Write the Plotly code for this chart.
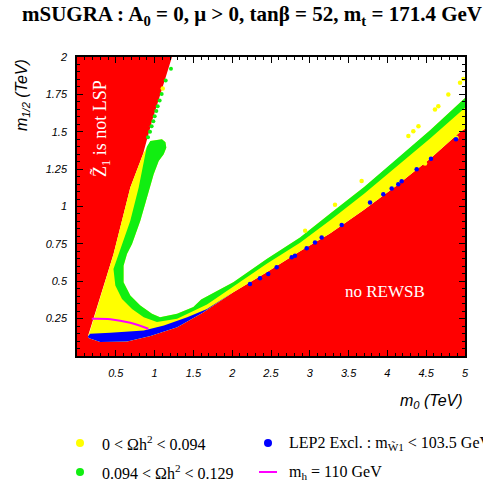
import plotly.graph_objects as go

# ---------------- data ----------------
# LSP boundary (red region to the left)  m0 (TeV), m1/2 (TeV)
lsp_m0 = [0.14, 0.17, 0.47, 0.687, 0.85, 0.966, 1.224]
lsp_m12 = [0.13, 0.17, 0.68, 1.127, 1.349, 1.57, 2.0]

# REWSB boundary (red region below)
rewsb_m0 = [0.14, 0.15, 0.30, 0.644, 0.945, 1.29, 1.62, 2.014, 2.445, 2.874, 3.26, 3.69, 4.12, 4.55, 4.94, 5.0]
rewsb_m12 = [0.13, 0.12, 0.093, 0.097, 0.133, 0.193, 0.29, 0.427, 0.56, 0.70, 0.82, 0.975, 1.14, 1.32, 1.50, 1.52]

# green band (0.094 < Oh2 < 0.129): outer edge and inner (white side) edge
green_outer_m0 = [0.945, 0.90, 0.88, 0.795, 0.687, 0.56, 0.47, 0.494, 0.58, 0.709, 0.86, 1.03, 1.29, 1.675,
                  2.014, 2.445, 2.874, 3.28, 3.7, 4.12, 4.55, 5.0]
green_outer_m12 = [1.438, 1.40, 1.349, 1.127, 0.904, 0.72, 0.582, 0.471, 0.382, 0.315, 0.26, 0.227, 0.249, 0.345,
                   0.463, 0.617, 0.757, 0.915, 1.085, 1.268, 1.455, 1.66]
green_inner_m0 = [0.945, 1.095, 1.14, 1.151, 1.117, 1.053, 0.988, 0.902, 0.816, 0.709, 0.644, 0.60, 0.60, 0.687,
                  0.816, 0.966, 1.07, 1.29, 1.50, 1.6, 2.014, 2.445, 2.874, 3.28, 3.7, 4.12, 4.55, 5.0]
green_inner_m12 = [1.438, 1.449, 1.43, 1.393, 1.349, 1.304, 1.215, 1.06, 0.904, 0.749, 0.682, 0.604, 0.493, 0.404,
                   0.337, 0.282, 0.26, 0.282, 0.327, 0.378, 0.493, 0.649, 0.793, 0.96, 1.13, 1.315, 1.51, 1.725]

# LEP2 excluded band: upper edge (lower edge follows the REWSB boundary)
blue_top_m0 = [0.14, 0.17, 0.43, 0.86, 1.12, 1.42, 1.675, 2.0]
blue_top_m12 = [0.13, 0.149, 0.155, 0.171, 0.204, 0.26, 0.315, 0.425]

# isolated LEP2 points along the REWSB edge
blue_dot_m0 = [2.229, 2.358, 2.465, 2.573, 2.767, 2.809, 2.96, 3.067, 3.153, 3.411, 3.776, 3.947, 4.055,
               4.14, 4.184, 4.377, 4.562, 4.884]
blue_dot_m12 = [0.482, 0.52, 0.549, 0.593, 0.66, 0.671, 0.72, 0.76, 0.793, 0.877, 1.027, 1.082, 1.12,
                1.149, 1.169, 1.249, 1.32, 1.449]

# isolated 0 < Oh2 < 0.094 points
yellow_dot_m0 = [2.94, 3.325, 3.668, 3.862, 4.27, 4.334, 4.4, 4.485, 4.613, 4.656, 4.785, 4.89, 4.936, 4.979, 1.105]
yellow_dot_m12 = [0.837, 1.011, 1.171, 1.06, 1.471, 1.504, 1.537, 1.287, 1.649, 1.671, 1.749, 1.46, 1.827, 1.853, 1.79]

# isolated 0.094 < Oh2 < 0.129 points along the LSP edge
green_dot_m0 = [1.211, 1.143, 1.091, 1.065, 1.040, 1.022, 1.001, 0.984, 0.962, 0.941, 0.915]
green_dot_m12 = [1.922, 1.842, 1.753, 1.709, 1.671, 1.638, 1.604, 1.571, 1.537, 1.5, 1.464]

# m_h = 110 GeV contour
mh_m0 = [0.19, 0.43, 0.687, 0.92]
mh_m12 = [0.249, 0.246, 0.222, 0.182]

x_ticks = [0.5, 1, 1.5, 2, 2.5, 3, 3.5, 4, 4.5, 5]
x_ticklabels = ["0.5", "1", "1.5", "2", "2.5", "3", "3.5", "4", "4.5", "5"]
y_ticks = [0.25, 0.5, 0.75, 1, 1.25, 1.5, 1.75, 2]
y_ticklabels = ["0.25", "0.5", "0.75", "1", "1.25", "1.5", "1.75", "2"]

legend_labels = ["0 < Ωh<sup>2</sup> < 0.094", "LEP2 Excl. : m<sub>W̃1</sub> < 103.5 GeV",
                 "0.094 < Ωh<sup>2</sup> < 0.129", "m<sub>h</sub> = 110 GeV"]

RED, YELLOW, GREEN, BLUE, MAGENTA = "#ff0000", "#ffff00", "#11ee11", "#0000ff", "#ff00ff"
legend_colors = [YELLOW, BLUE, GREEN, MAGENTA]
legend_kinds = ["dot", "dot", "dot", "line"]

# ---------------- geometry ----------------
W, H = 483, 487
L, R, T, B = 77, 18, 57, 131
PW, PH = W - L - R, H - T - B


def px(X):
    return (X - L) / PW


def py(Y):
    return (H - B - Y) / PH


# ---------------- polygons built from the boundaries ----------------
red_x = [0, 0] + lsp_m0[::-1] + rewsb_m0[1:] + [5, 0]
red_y = [0, 2] + lsp_m12[::-1] + rewsb_m12[1:] + [0, 0]

yel_x = lsp_m0[:5] + green_inner_m0 + rewsb_m0[::-1]
yel_y = lsp_m12[:5] + green_inner_m12 + rewsb_m12[::-1]

grn_x = green_outer_m0 + green_inner_m0[::-1]
grn_y = green_outer_m12 + green_inner_m12[::-1]

low = [(a, b) for a, b in zip(rewsb_m0, rewsb_m12) if a <= 2.02]
blu_x = blue_top_m0 + [a for a, b in low][::-1]
blu_y = blue_top_m12 + [b for a, b in low][::-1]

fig = go.Figure()


def poly(x, y, color):
    fig.add_trace(go.Scatter(x=x, y=y, mode="lines", fill="toself", fillcolor=color,
                             line=dict(width=0, color=color), showlegend=False, hoverinfo="skip"))


poly(red_x, red_y, RED)
poly(yel_x, yel_y, YELLOW)
poly(grn_x, grn_y, GREEN)
poly(blu_x, blu_y, BLUE)

fig.add_trace(go.Scatter(x=green_dot_m0, y=green_dot_m12, mode="markers",
                         marker=dict(color=GREEN, size=4), showlegend=False))
fig.add_trace(go.Scatter(x=yellow_dot_m0, y=yellow_dot_m12, mode="markers",
                         marker=dict(color=YELLOW, size=4.5), showlegend=False))
fig.add_trace(go.Scatter(x=blue_dot_m0, y=blue_dot_m12, mode="markers",
                         marker=dict(color=BLUE, size=4.5), showlegend=False))
fig.add_trace(go.Scatter(x=mh_m0, y=mh_m12, mode="lines", line=dict(color=MAGENTA, width=2),
                         line_shape="spline", showlegend=False))

tickfont = dict(family="Liberation Sans", size=11, style="italic", color="black")
fig.update_xaxes(range=[0, 5], tickvals=x_ticks, ticktext=x_ticklabels, ticks="inside", ticklen=6,
                 tickcolor="black", showline=True, linecolor="black", linewidth=1.5, mirror="allticks",
                 showgrid=False, zeroline=False, tickfont=tickfont, ticklabelstandoff=6,
                 minor=dict(dtick=0.1, ticks="inside", ticklen=3, tickcolor="black", showgrid=False))
fig.update_yaxes(range=[0, 2], tickvals=y_ticks, ticktext=y_ticklabels, ticks="inside", ticklen=6,
                 tickcolor="black", showline=True, linecolor="black", linewidth=1.5, mirror="allticks",
                 showgrid=False, zeroline=False, tickfont=tickfont, ticklabelstandoff=6,
                 minor=dict(dtick=0.05, ticks="inside", ticklen=3, tickcolor="black", showgrid=False))

# ---------------- manual legend (two columns) ----------------
shapes = []
annotations = []
col_sym = [80, 268]
col_txt = [100, 287]
row_y = [443, 472]
for i, (lab, col, kind) in enumerate(zip(legend_labels, legend_colors, legend_kinds)):
    c, r = i % 2, i // 2
    yc = py(row_y[r])
    if kind == "dot":
        shapes.append(dict(type="circle", xref="paper", yref="paper", xsizemode="pixel", ysizemode="pixel",
                           xanchor=px(col_sym[c]), yanchor=yc, x0=-4, x1=4, y0=-4, y1=4,
                           fillcolor=col, line=dict(width=0)))
    else:
        shapes.append(dict(type="line", xref="paper", yref="paper", x0=px(col_sym[c] - 9),
                           x1=px(col_sym[c] + 9), y0=yc, y1=yc, line=dict(color=col, width=2)))
    annotations.append(dict(x=px(col_txt[c]), y=yc, xref="paper", yref="paper", text=lab, showarrow=False,
                            xanchor="left", yanchor="middle",
                            font=dict(family="Liberation Serif", size=16, color="black")))

annotations += [
    dict(x=0.30, y=1.52, xref="x", yref="y", text="Z̃<sub>1</sub> is not LSP", textangle=-90,
         xanchor="center", yanchor="middle",
         showarrow=False, font=dict(family="Liberation Serif", size=18, color="white")),
    dict(x=3.97, y=0.43, xref="x", yref="y", text="no REWSB", showarrow=False,
         xanchor="center", yanchor="middle",
         font=dict(family="Liberation Serif", size=17, color="white")),
    dict(x=px(22), y=1.0, xref="paper", yref="paper", text="m<sub>1/2</sub> (TeV)", textangle=-90,
         xanchor="center", yanchor="top",
         showarrow=False, font=dict(family="Liberation Sans", size=16, style="italic", color="black")),
    dict(x=1.0, y=py(402), xref="paper", yref="paper", text="m<sub>0</sub> (TeV)",
         xanchor="right", yanchor="middle",
         showarrow=False, font=dict(family="Liberation Sans", size=16, style="italic", color="black")),
]

fig.update_layout(
    width=W, height=H,
    margin=dict(l=L, r=R, t=T, b=B, autoexpand=False),
    paper_bgcolor="white", plot_bgcolor="white",
    showlegend=False,
    title=dict(text="<b>mSUGRA : A<sub>0</sub> = 0, μ > 0, tanβ = 52, m<sub>t</sub> = 171.4 GeV</b>",
               font=dict(family="Liberation Serif", size=21, color="black"),
               x=252 / W, xref="container", xanchor="center", y=1 - 14 / H, yref="container",
               yanchor="middle"),
    shapes=shapes,
    annotations=annotations,
)

fig.write_html("out.html")
